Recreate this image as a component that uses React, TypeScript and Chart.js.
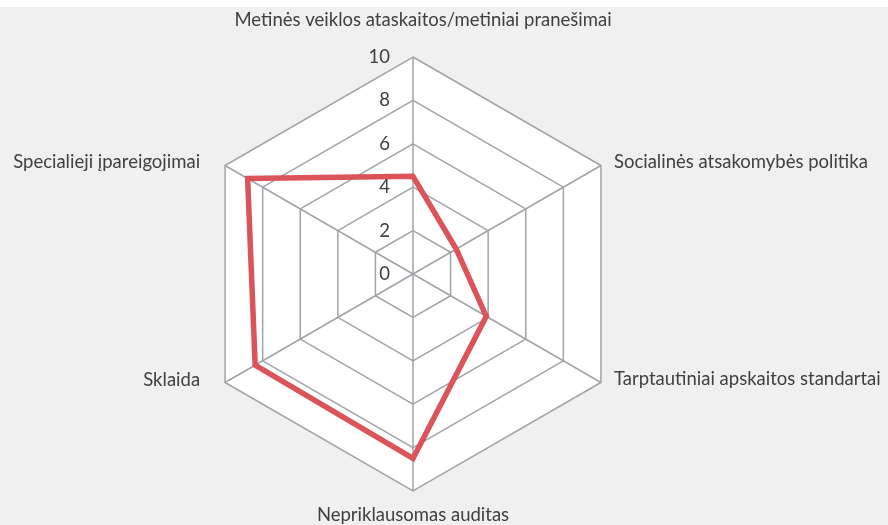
import React, { useEffect, useRef } from "react";
import { Chart, registerables } from "chart.js";

Chart.register(...registerables);

const categories = [
  "Metinės veiklos ataskaitos/metiniai pranešimai",
  "Socialinės atsakomybės politika",
  "Tarptautiniai apskaitos standartai",
  "Nepriklausomas auditas",
  "Sklaida",
  "Specialieji įpareigojimai",
];
const values = [4.5, 2.3, 3.9, 8.5, 8.4, 8.8];
const tickLabels = [0, 2, 4, 6, 8, 10];

const FONT = "Lato, 'DejaVu Sans', sans-serif";
const TEXT = "#404040";
const GRID = "#a0a4a8";
const LINE = "#dc535a";

// label placement relative to outer vertex: [dx, dy, align]
const labelPlace: [number, number, CanvasTextAlign][] = [
  [10, -37, "center"],
  [13, -3, "left"],
  [13, -3, "left"],
  [0, 24, "center"],
  [-25, -2, "right"],
  [-25, -3, "right"],
];

const decorPlugin = {
  id: "decor",
  beforeDraw(chart: any) {
    const { ctx } = chart;
    const scale = chart.scales.r;
    ctx.save();
    ctx.fillStyle = "#f0f0f0";
    ctx.fillRect(0, 0, chart.width, chart.height);
    ctx.beginPath();
    for (let i = 0; i < categories.length; i++) {
      const p = scale.getPointPosition(i, scale.drawingArea);
      if (i === 0) ctx.moveTo(p.x, p.y);
      else ctx.lineTo(p.x, p.y);
    }
    ctx.closePath();
    ctx.fillStyle = "#ffffff";
    ctx.fill();
    ctx.restore();
  },
  afterDraw(chart: any) {
    const { ctx } = chart;
    const scale = chart.scales.r;
    ctx.save();
    ctx.fillStyle = TEXT;
    ctx.font = `18.5px ${FONT}`;
    ctx.textBaseline = "middle";
    categories.forEach((c, i) => {
      const p = scale.getPointPosition(i, scale.drawingArea);
      const [dx, dy, al] = labelPlace[i];
      ctx.textAlign = al;
      ctx.fillText(c, p.x + dx, p.y + dy);
    });
    ctx.textAlign = "right";
    tickLabels.forEach((t) => {
      const d = scale.getDistanceFromCenterForValue(t);
      ctx.fillText(String(t), scale.xCenter - 23, scale.yCenter - d);
    });
    ctx.restore();
  },
};

export default function App() {
  const ref = useRef<HTMLCanvasElement | null>(null);
  useEffect(() => {
    document.body.style.margin = "0";
    if (!ref.current) return;
    const chart = new Chart(ref.current, {
      type: "radar",
      data: {
        labels: categories,
        datasets: [
          {
            data: values,
            borderColor: LINE,
            borderWidth: 5.5,
            backgroundColor: "transparent",
            fill: false,
            pointRadius: 0,
            pointHoverRadius: 0,
            tension: 0,
            borderJoinStyle: "miter",
          },
        ],
      },
      options: {
        responsive: false,
        animation: false,
        layout: { padding: { top: 50, bottom: 34, left: 0, right: 62 } },
        plugins: { legend: { display: false }, tooltip: { enabled: false } },
        scales: {
          r: {
            min: 0,
            max: 10,
            ticks: { stepSize: 2, display: false },
            pointLabels: { display: false },
            grid: { color: GRID, lineWidth: 1.5, circular: false },
            angleLines: { color: GRID, lineWidth: 1.5 },
          },
        },
      },
      plugins: [decorPlugin],
    });
    return () => chart.destroy();
  }, []);
  return (
    <div style={{ width: 888, height: 525, background: "#fff", paddingTop: 7, boxSizing: "border-box" }}>
      <canvas ref={ref} width={888} height={518} style={{ display: "block" }} />
    </div>
  );
}
